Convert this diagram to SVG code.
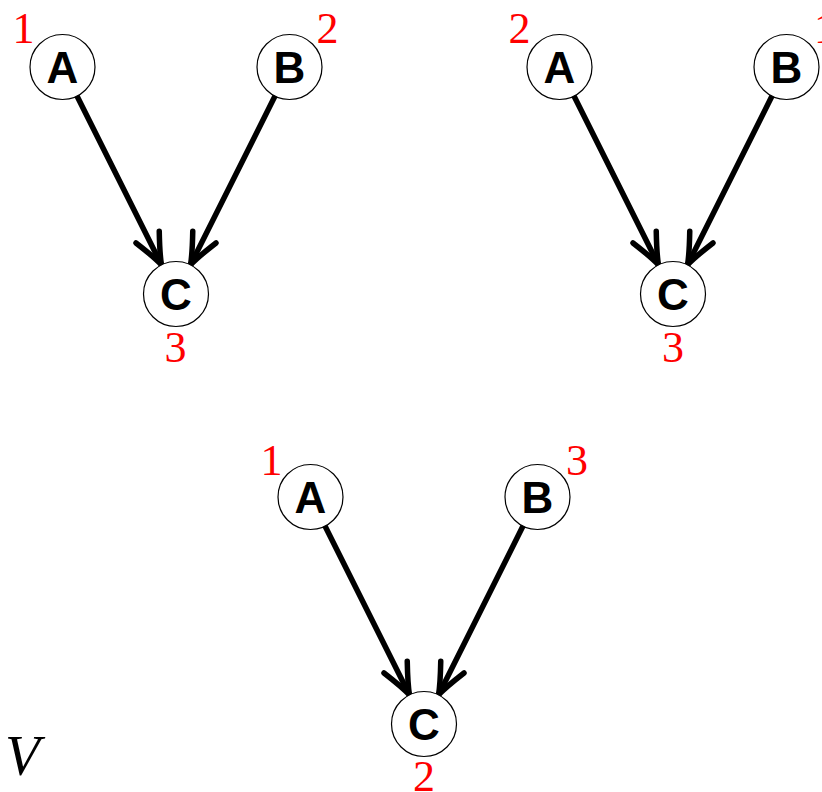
<svg xmlns="http://www.w3.org/2000/svg" width="822" height="792" viewBox="0 0 822 792">
<style>
.node circle{fill:#fff;stroke:#000;stroke-width:1.2}
.node text{font-family:"Liberation Sans",Arial,sans-serif;font-weight:bold;font-size:44px;text-anchor:middle;fill:#000}
.lbl{font-family:"Liberation Serif","Times New Roman",serif;font-size:44px;fill:#ff0000;text-anchor:middle}
.edge{stroke:#000;stroke-width:5.5;stroke-linecap:round;fill:none;marker-end:url(#arr)}
</style>
<defs>
<marker id="arr" markerUnits="userSpaceOnUse" viewBox="-40 -20 45 40" refX="0" refY="0" markerWidth="45" markerHeight="40" orient="auto" overflow="visible">
<path d="M -31,-13 Q -10,-3 0,0 Q -10,3 -31,13" fill="none" stroke="#000" stroke-width="5.5" stroke-linecap="round" stroke-linejoin="round"/>
</marker>
</defs>
<rect width="822" height="792" fill="#fff"/>
<g id="connectors">
<line class="edge" x1="77" y1="96.1" x2="161.5" y2="264.9"/>
<line class="edge" x1="275" y1="96.1" x2="190.5" y2="264.9"/>
<line class="edge" x1="574" y1="96.1" x2="658.5" y2="264.9"/>
<line class="edge" x1="772" y1="96.1" x2="687.5" y2="264.9"/>
<line class="edge" x1="325" y1="526.1" x2="409.5" y2="694.9"/>
<line class="edge" x1="523" y1="526.1" x2="438.5" y2="694.9"/>
</g>
<g id="g1-A" class="node"><circle cx="62.5" cy="67" r="32.5"/><text x="62.5" y="83">A</text></g>
<g id="g1-B" class="node"><circle cx="289.5" cy="67" r="32.5"/><text x="289.5" y="83">B</text></g>
<g id="g1-C" class="node"><circle cx="176" cy="294" r="32.5"/><text x="176" y="310">C</text></g>
<g id="g2-A" class="node"><circle cx="559.5" cy="67" r="32.5"/><text x="559.5" y="83">A</text></g>
<g id="g2-B" class="node"><circle cx="786.5" cy="67" r="32.5"/><text x="786.5" y="83">B</text></g>
<g id="g2-C" class="node"><circle cx="673" cy="294" r="32.5"/><text x="673" y="310">C</text></g>
<g id="g3-A" class="node"><circle cx="310.5" cy="497" r="32.5"/><text x="310.5" y="513">A</text></g>
<g id="g3-B" class="node"><circle cx="537.5" cy="497" r="32.5"/><text x="537.5" y="513">B</text></g>
<g id="g3-C" class="node"><circle cx="424" cy="724" r="32.5"/><text x="424" y="740">C</text></g>
<g id="labels">
<text class="lbl" x="23.5" y="43">1</text>
<text class="lbl" x="327.5" y="43">2</text>
<text class="lbl" x="175.5" y="362">3</text>
<text class="lbl" x="519.5" y="43">2</text>
<text class="lbl" x="825" y="43">1</text>
<text class="lbl" x="673" y="362">3</text>
<text class="lbl" x="271.5" y="475">1</text>
<text class="lbl" x="577" y="475">3</text>
<text class="lbl" x="424" y="791">2</text>
<text x="5" y="775" font-family="'Liberation Serif','Times New Roman',serif" font-style="italic" font-size="57" fill="#000">V</text>
</g>
</svg>
